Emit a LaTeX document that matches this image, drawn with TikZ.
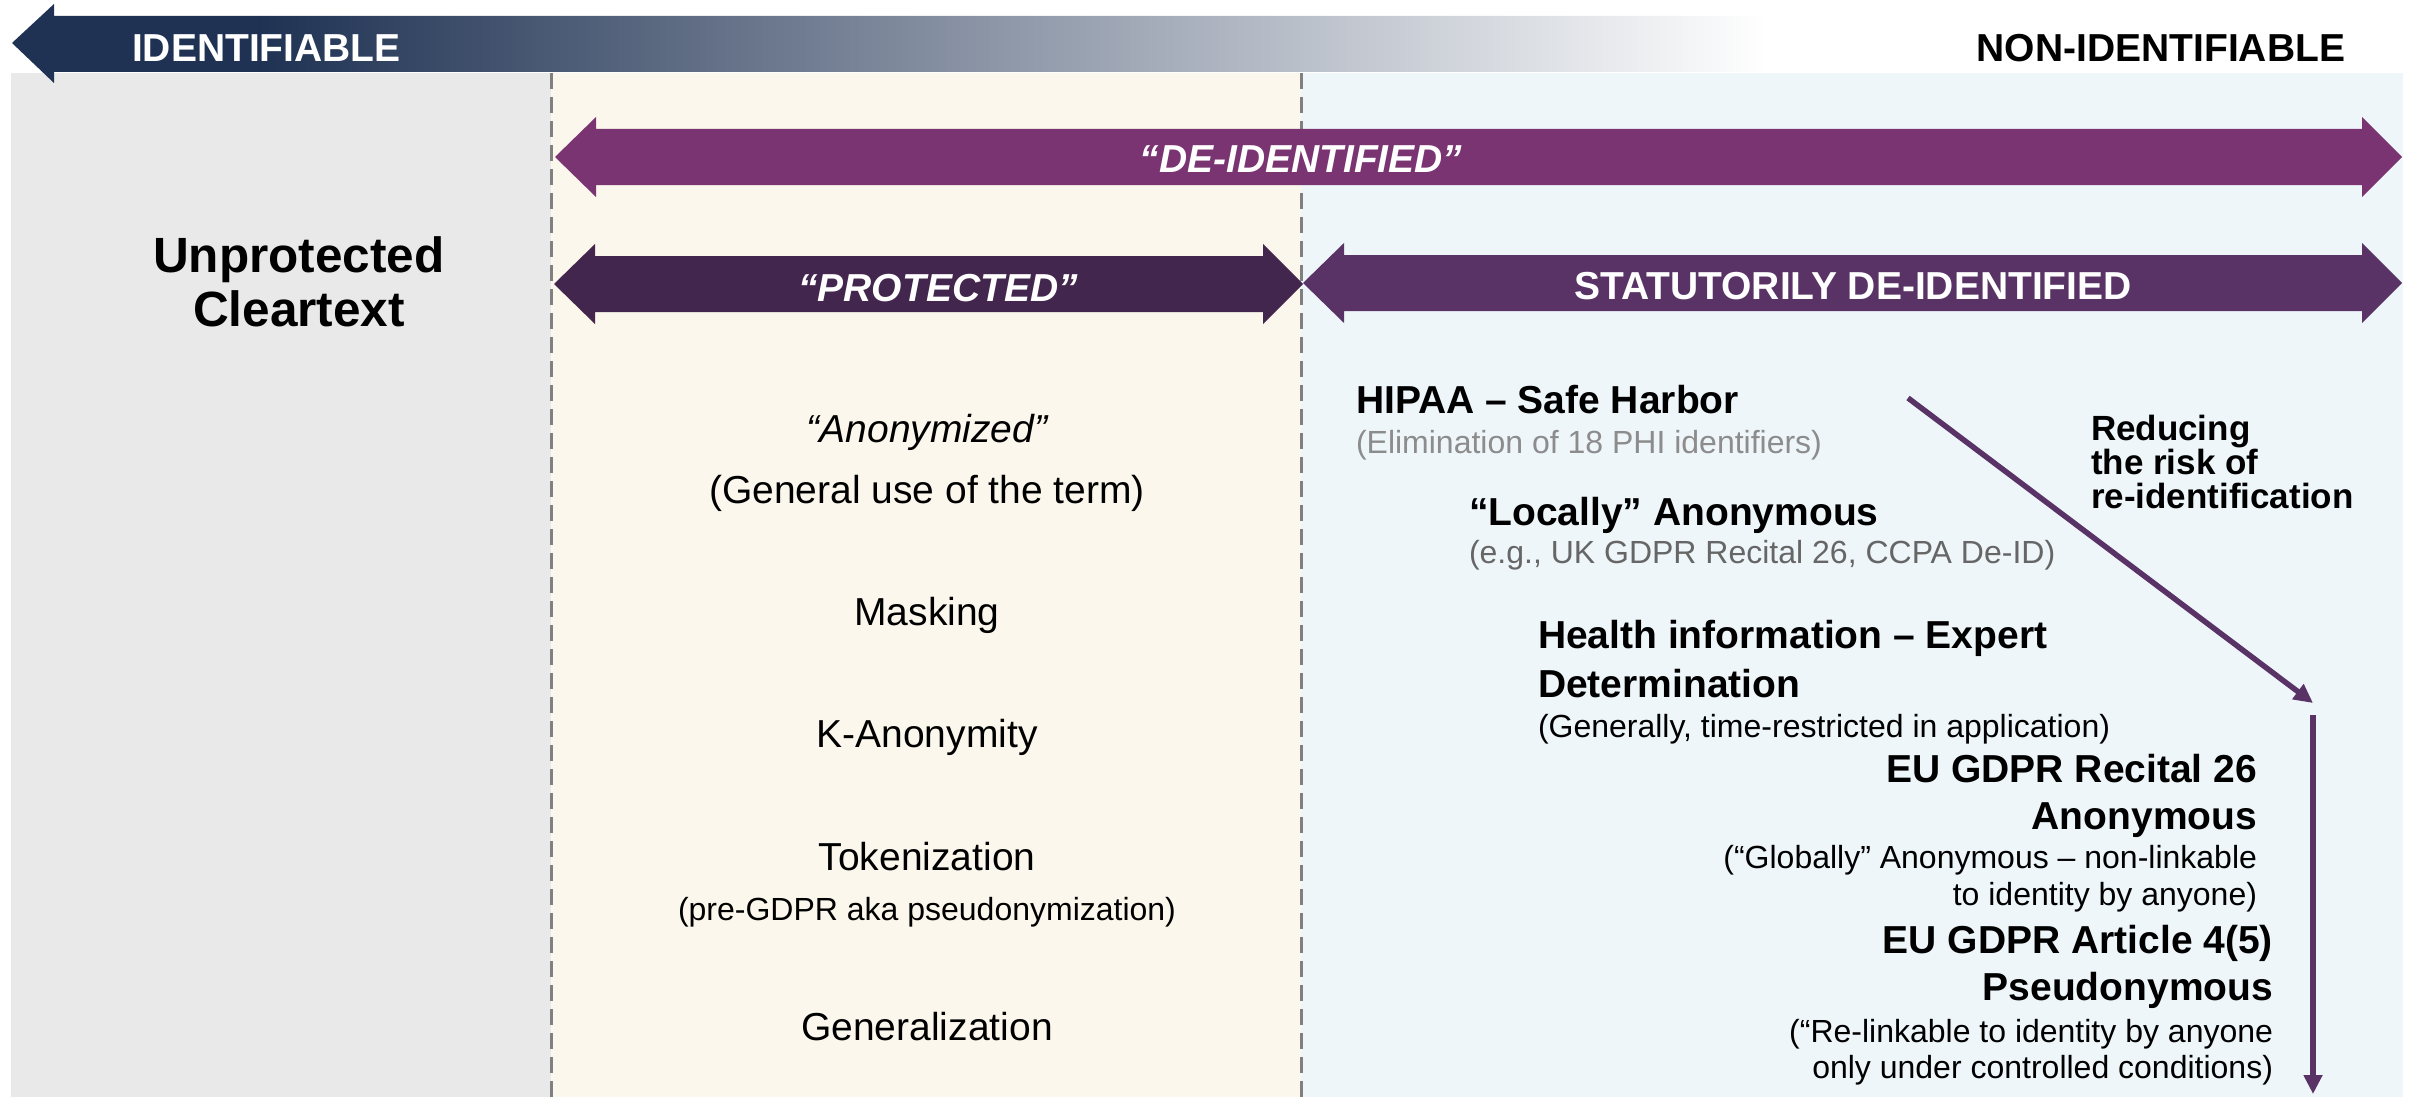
\documentclass[tikz,border=0pt]{standalone}
\usepackage{fontspec}
\setmainfont{Liberation Sans}
\usetikzlibrary{arrows.meta}
\definecolor{navy}{HTML}{1F3253}
\definecolor{bggray}{HTML}{E9E9E9}
\definecolor{bgcream}{HTML}{FBF7EC}
\definecolor{bgblue}{HTML}{EEF6FA}
\definecolor{deid}{HTML}{7A3472}
\definecolor{prot}{HTML}{43264D}
\definecolor{stat}{HTML}{593366}
\definecolor{subgray}{HTML}{8C8C8C}
\definecolor{subgrayd}{HTML}{666666}
\definecolor{dashgray}{HTML}{808080}
\pgfdeclarehorizontalshading{topgrad}{100bp}{color(0bp)=(navy); color(25bp)=(navy); color(32bp)=(navy); color(75bp)=(white); color(100bp)=(white)}
\begin{document}
\begin{tikzpicture}[x=1pt,y=-1pt,
  txt/.style={inner sep=0pt, outer sep=0pt},
  big/.style={txt, font=\fontsize{39}{47}\selectfont},
  bigb/.style={txt, font=\fontsize{39}{47}\selectfont\bfseries},
  bigbi/.style={txt, font=\fontsize{39}{47}\selectfont\bfseries\itshape},
  small/.style={txt, font=\fontsize{32}{38}\selectfont},
  riskfont/.style={txt, font=\fontsize{35}{35}\selectfont\bfseries},
  divider/.style={dashgray, line width=3pt, dash pattern=on 16pt off 8pt},
  riskarrow/.style={stat, line width=5.5pt, -{Triangle[length=19pt,width=18pt]}}
]
\useasboundingbox (0,0) rectangle (2415,1097);
% backgrounds
\fill[bggray] (11,73) rectangle (551,1097);
\fill[bgcream] (551,73) rectangle (1301,1097);
\fill[bgblue] (1301,73) rectangle (2403,1097);
\draw[divider] (551,73) -- (551,1097);
\draw[divider] (1301,73) -- (1301,1097);
% top gradient arrow
\shade[shading=topgrad] (12,43) -- (54,4) -- (54,16) -- (1766,16) -- (1766,72) -- (54,72) -- (54,83) -- cycle;
\node[bigb, text=white, anchor=base west] (ident) at (132,62) {IDENTIFIABLE};
\node[bigb, anchor=base east] (nonident) at (2345,62) {NON-IDENTIFIABLE};
% double arrows
\fill[deid] (555,157) -- (596,117) -- (596,129) -- (2362,129) -- (2362,117) -- (2402,157) -- (2362,197) -- (2362,185) -- (596,185) -- (596,197) -- cycle;
\node[bigbi, text=white, anchor=base] (deidtxt) at (1301,172) {“DE-IDENTIFIED”};
\fill[prot] (554,284) -- (595,244) -- (595,256) -- (1263,256) -- (1263,244) -- (1303,284) -- (1263,324) -- (1263,312) -- (595,312) -- (595,324) -- cycle;
\node[bigbi, text=white, anchor=base] (prottxt) at (938,301) {“PROTECTED”};
\fill[stat] (1303,283) -- (1344,243) -- (1344,255) -- (2362,255) -- (2362,243) -- (2402,283) -- (2362,323) -- (2362,311) -- (1344,311) -- (1344,323) -- cycle;
\node[bigb, text=white, anchor=base] (stattxt) at (1853,299) {STATUTORILY DE-IDENTIFIED};
% left column
\node[txt, font=\fontsize{49.5}{54}\selectfont\bfseries, anchor=base] (unp1) at (299,272) {Unprotected};
\node[txt, font=\fontsize{49.5}{54}\selectfont\bfseries, anchor=base] (unp2) at (299,326) {Cleartext};
% middle column
\node[big, font=\fontsize{39}{47}\selectfont\itshape, anchor=base] (anon) at (927,442) {“Anonymized”};
\node[big, anchor=base] (general) at (927,503) {(General use of the term)};
\node[big, anchor=base] (masking) at (927,625) {Masking};
\node[big, anchor=base] (kanon) at (927,747) {K-Anonymity};
\node[big, anchor=base] (token) at (927,870) {Tokenization};
\node[small, anchor=base] (pregdpr) at (927,920) {(pre-GDPR aka pseudonymization)};
\node[big, anchor=base] (generalization) at (927,1040) {Generalization};
% right column
\node[bigb, anchor=base west] (hipaa) at (1356,413) {HIPAA – Safe Harbor};
\node[small, text=subgray, anchor=base west] (elim) at (1356,453) {(Elimination of 18 PHI identifiers)};
\node[bigb, anchor=base west] (locally) at (1469,525) {“Locally” Anonymous};
\node[small, text=subgrayd, anchor=base west] (eg) at (1469,563) {(e.g., UK GDPR Recital 26, CCPA De-ID)};
\node[bigb, anchor=base west] (health1) at (1538,648) {Health information – Expert};
\node[bigb, anchor=base west] (health2) at (1538,697) {Determination};
\node[small, anchor=base west] (generally) at (1538,737) {(Generally, time-restricted in application)};
\node[bigb, anchor=base east] (rec1) at (2257,782) {EU GDPR Recital 26};
\node[bigb, anchor=base east] (rec2) at (2257,829) {Anonymous};
\node[small, anchor=base east] (rec3) at (2257,868) {(“Globally” Anonymous – non-linkable};
\node[small, anchor=base east] (rec4) at (2257,905) {to identity by anyone)};
\node[bigb, anchor=base east] (art1) at (2273,953) {EU GDPR Article 4(5)};
\node[bigb, anchor=base east] (art2) at (2273,1000) {Pseudonymous};
\node[small, anchor=base east] (art3) at (2273,1042) {(“Re-linkable to identity by anyone};
\node[small, anchor=base east] (art4) at (2273,1078) {only under controlled conditions)};
% risk label and arrows
\node[riskfont, anchor=base west] (risk1) at (2091,440) {Reducing};
\node[riskfont, anchor=base west] (risk2) at (2091,474) {the risk of};
\node[riskfont, anchor=base west] (risk3) at (2091,508) {re-identification};
\coordinate (d1) at (1908,398);
\coordinate (d2) at (2313,703);
\coordinate (v1) at (2313,715);
\coordinate (v2) at (2313,1094);
\draw[riskarrow] (d1) -- (d2);
\draw[riskarrow] (v1) -- (v2);
\end{tikzpicture}
\end{document}
